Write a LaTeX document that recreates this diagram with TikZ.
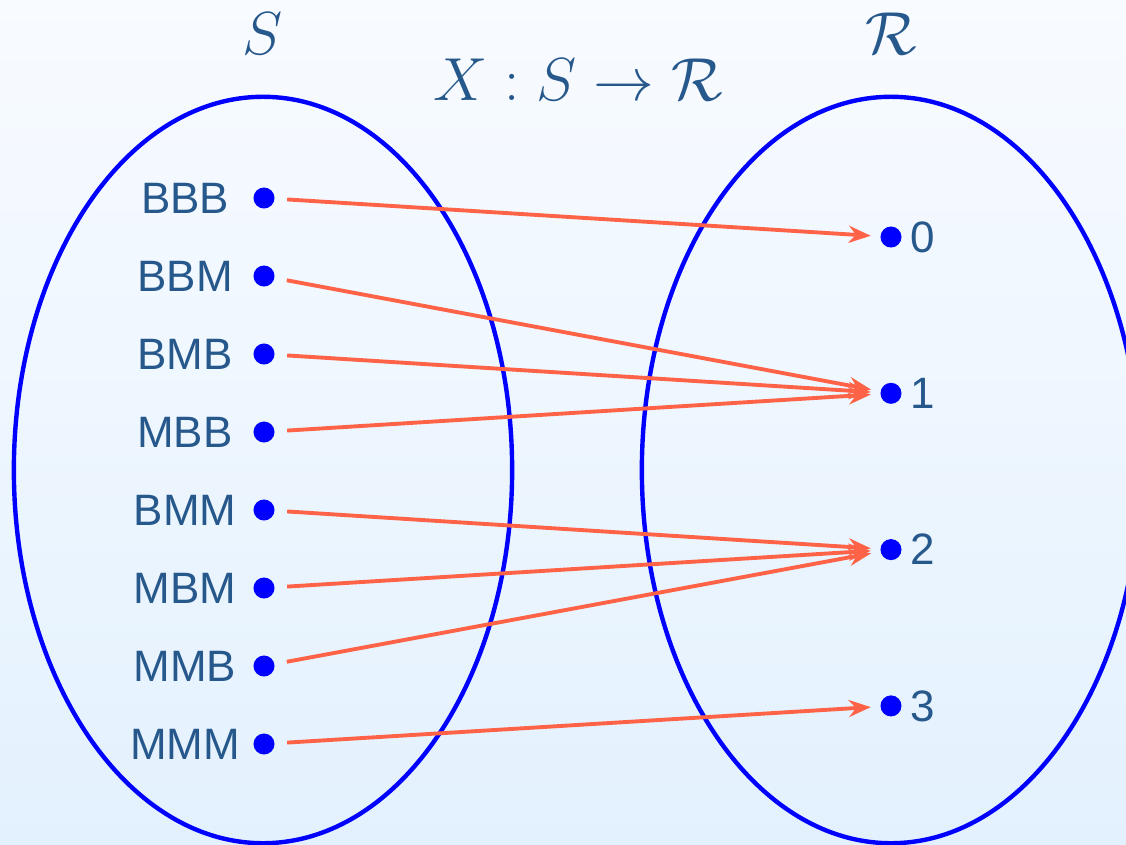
\documentclass[tikz,border=0pt]{standalone}
\usepackage{fontspec}
\setsansfont{Liberation Sans}
\usetikzlibrary{arrows.meta}
\definecolor{labelblue}{RGB}{38,88,140}
\definecolor{maporange}{RGB}{255,99,71}
\definecolor{bgtop}{RGB}{248,251,255}
\definecolor{bgbottom}{RGB}{227,241,254}
\begin{document}
\begin{tikzpicture}[x=0.01cm, y=-0.01cm, >={Stealth[length=0.22cm, width=0.17cm]},
  pt/.style={circle, fill=blue, inner sep=0pt, minimum size=0.21cm},
  lab/.style={text=labelblue, inner sep=0pt, font=\sffamily\fontsize{12.5}{15}\selectfont},
  mathlab/.style={text=labelblue, inner sep=1pt, font=\fontsize{16}{19}\selectfont},
  map/.style={->, maporange, line width=1.1pt, shorten <=0.12cm, shorten >=0.09cm}]
  % background
  \shade[top color=bgtop, bottom color=bgbottom] (0,0) rectangle (1126,845);
  \useasboundingbox (0,0) rectangle (1126,845);
  \clip (0,0) rectangle (1126,845);
  % sample space and real line
  \draw[blue, line width=1.25pt] (263,470) ellipse (2.49cm and 3.73cm);
  \draw[blue, line width=1.25pt] (891,470) ellipse (2.49cm and 3.73cm);
  \node[mathlab] (Sname) at (263,34) {$S$};
  \node[mathlab] (Rname) at (891,34) {$\mathcal{R}$};
  \node[mathlab] (Xname) at (578,80) {$X : S \to \mathcal{R}$};
  % outcomes
  \foreach \s [count=\i] in {BBB,BBM,BMB,MBB,BMM,MBM,MMB,MMM} {
    \node[pt] (s\i) at (264,198+78*\i-78) {};
    \node[lab] (l\i) at (185,198+78*\i-78) {\s};
  }
  % values
  \foreach \r in {0,...,3}
    \node[pt, label={[lab, label distance=0.08cm]right:\r}] (r\r) at (891,237+156.3*\r) {};
  % the map X
  \foreach \a/\b in {1/0, 2/1, 3/1, 4/1, 5/2, 6/2, 7/2, 8/3}
    \draw[map] (s\a) -- (r\b);
\end{tikzpicture}
\end{document}
